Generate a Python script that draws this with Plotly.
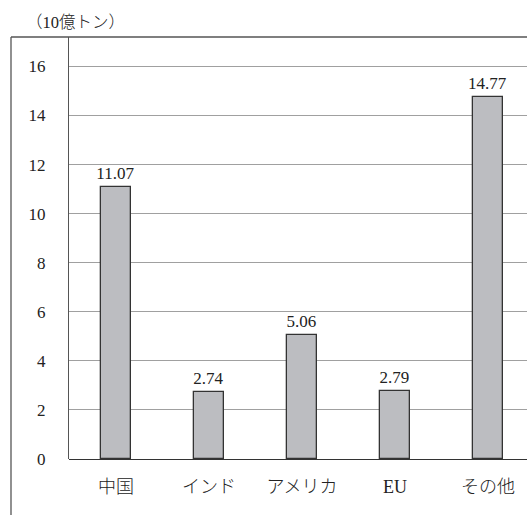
import plotly.graph_objects as go

categories = ["中国", "インド", "アメリカ", "EU", "その他"]
values = [11.07, 2.74, 5.06, 2.79, 14.77]
value_labels = ["11.07", "2.74", "5.06", "2.79", "14.77"]
y_ticks = [0, 2, 4, 6, 8, 10, 12, 14, 16]
unit_label = "（10億トン）"

FONT = "'Liberation Serif', 'Noto Sans CJK JP'"

fig = go.Figure()
fig.add_trace(go.Bar(
    x=list(range(len(categories))),
    y=values,
    width=0.33,
    marker=dict(color="#bcbdc1", line=dict(color="#333333", width=1.3)),
    text=value_labels,
    textposition="outside",
    constraintext="none",
    textfont=dict(family=FONT, size=17, color="#222222"),
    cliponaxis=False,
))

fig.update_layout(
    width=527, height=515,
    margin=dict(l=69, r=0, t=37, b=56),
    paper_bgcolor="white", plot_bgcolor="white",
    showlegend=False,
    bargap=0,
    font=dict(family=FONT, size=15, color="#222222"),
    xaxis=dict(
        range=[-0.505, 4.42],
        tickvals=list(range(len(categories))),
        ticktext=categories,
        showgrid=False, zeroline=False,
        showline=False,
        ticks="",
        ticklabelstandoff=15,
        tickfont=dict(family=FONT, size=18, color="#222222", weight=300),
        fixedrange=True,
    ),
    yaxis=dict(
        range=[0, 17.2],
        tickvals=y_ticks,
        showgrid=True, gridcolor="#a0a0a0", gridwidth=1,
        zeroline=True, zerolinecolor="#333333", zerolinewidth=1.3,
        showline=True, linecolor="#555555", linewidth=1.3,
        ticks="",
        ticklabelstandoff=19,
        tickfont=dict(family=FONT, size=17, color="#222222"),
        fixedrange=True,
    ),
)

# outer frame: top line and left line
fig.add_shape(type="line", xref="paper", yref="paper",
              x0=-58/458, x1=1, y0=1, y1=1,
              line=dict(color="#555555", width=1.3))
fig.add_shape(type="line", xref="paper", yref="paper",
              x0=-58/458, x1=-58/458, y0=1, y1=-56/422,
              line=dict(color="#555555", width=1.3))

fig.add_annotation(text=unit_label, xref="paper", yref="paper",
                   x=-45/458, y=1 + 14/422, xanchor="left", yanchor="middle",
                   showarrow=False,
                   font=dict(family=FONT, size=16.5, color="#222222", weight=300))

fig.write_html("out.html")
